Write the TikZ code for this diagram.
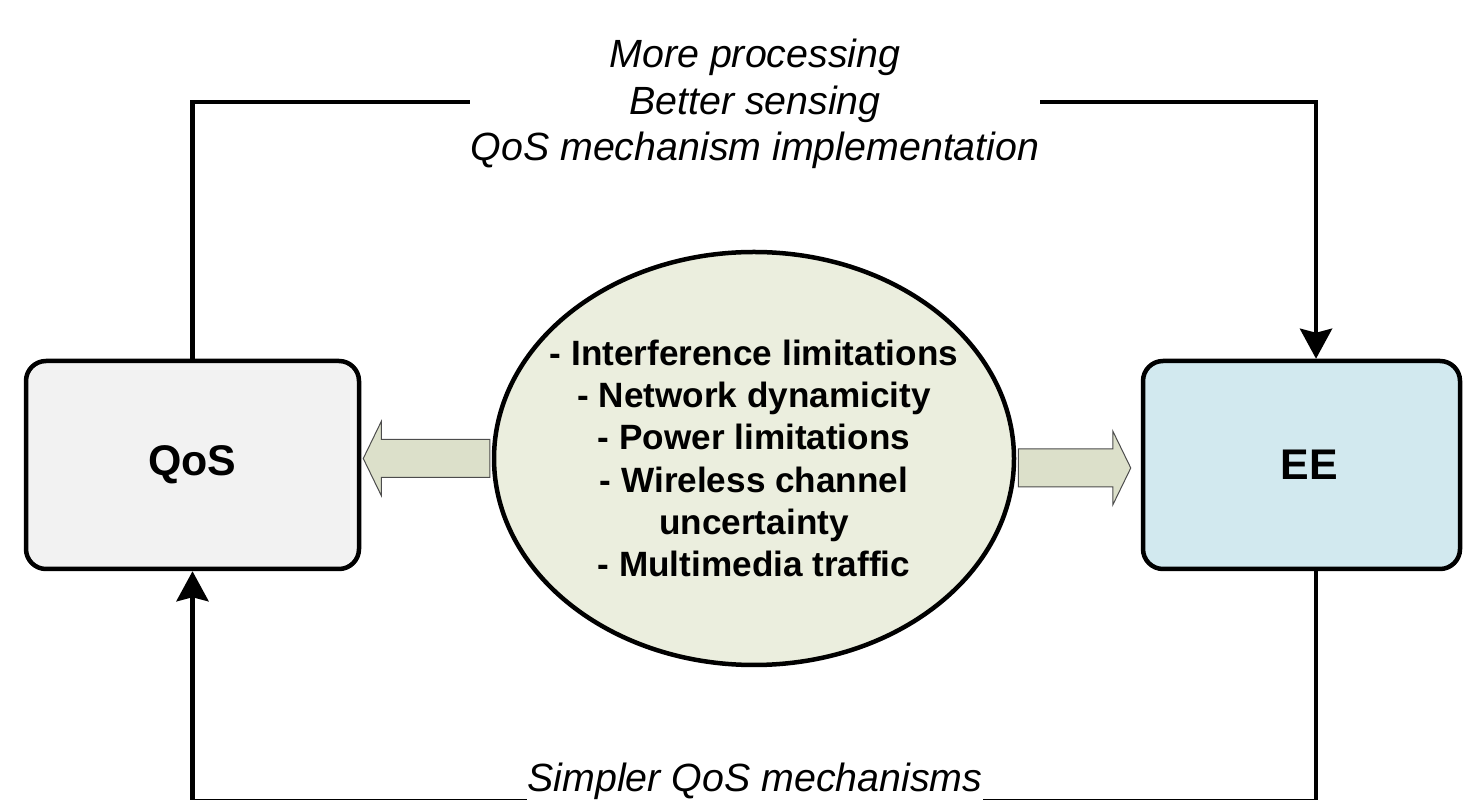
\documentclass[tikz,border=0pt]{standalone}
\usepackage{fontspec}
\setmainfont{Liberation Sans}
\usetikzlibrary{arrows.meta,calc,shapes.geometric}
\definecolor{qosgray}{HTML}{F2F2F2}
\definecolor{eeblue}{HTML}{D2E9EF}
\definecolor{causefill}{HTML}{EBEEDE}
\definecolor{fatfill}{HTML}{DCE0CA}
\begin{document}
\begin{tikzpicture}[x=0.1mm,y=-0.1mm,
	>={Stealth[length=3mm,width=3.2mm,inset=0.4mm]},
	box/.style={draw,line width=0.45mm,rounded corners=2mm,minimum height=20.8mm},
	link/.style={line width=0.45mm},
	fatarrow/.style={draw=black!70,line width=0.1mm,fill=fatfill},
	edgetext/.style={font=\fontsize{11.2}{13.2}\selectfont\itshape,align=center,inner xsep=0pt},
	bigtext/.style={font=\fontsize{12.2}{14}\selectfont\bfseries}]
	\useasboundingbox (0,0) rectangle (1463,800);
	\clip (0,0) rectangle (1463,800);
	\node[box,fill=qosgray,minimum width=33.3mm,bigtext] (qos) at (192.5,465) {QoS};
	\node[box,fill=eeblue,minimum width=31.7mm] (ee) at (1301.5,465) {};
	\node[bigtext] (eetext) at ([xshift=0.75mm]ee.center) {EE};
	\node[draw,ellipse,line width=0.45mm,fill=causefill,minimum width=52mm,minimum height=41.3mm] (cause) at (754,458.5) {};
	\node[font=\fontsize{10}{12}\selectfont\bfseries,align=center] (causes) at (cause.center)
		{- Interference limitations\\- Network dynamicity\\- Power limitations\\- Wireless channel\\uncertainty\\- Multimedia traffic};
	% fat arrows out of the ellipse
	\coordinate (lbase) at ($(cause.west)+(-2,0)$);
	\coordinate (ltip) at ($(qos.east |- lbase)+(2,0)$);
	\draw[fatarrow] (ltip) -- ++(18,-37) -- ++(0,18) -- ($(lbase)+(0,-19)$) -- ($(lbase)+(0,19)$)
		-- ($(ltip)+(18,19)$) -- ++(0,18) -- cycle;
	\coordinate (rbase) at ($(cause.east)+(2,9.5)$);
	\coordinate (rtip) at ($(ee.west |- rbase)+(-10,0)$);
	\draw[fatarrow] (rtip) -- ++(-18,-37) -- ++(0,18) -- ($(rbase)+(0,-19)$) -- ($(rbase)+(0,19)$)
		-- ($(rtip)+(-18,19)$) -- ++(0,18) -- cycle;
	% feedback loops
	\node[edgetext] (gain) at (755,104) {More processing\\Better sensing\\QoS mechanism implementation};
	\coordinate (top) at (0,102);
	\draw[link] (qos.north) |- (gain.west |- top);
	\draw[link,->] (gain.east |- top) -| ([xshift=1.45mm]ee.north);
	\node[edgetext] (loss) at (755,781) {Simpler QoS mechanisms};
	\coordinate (bottom) at (0,801.2);
	\draw[link] ([xshift=1.45mm]ee.south) |- (loss.east |- bottom);
	\draw[link,->] (loss.west |- bottom) -| (qos.south);
\end{tikzpicture}
\end{document}
